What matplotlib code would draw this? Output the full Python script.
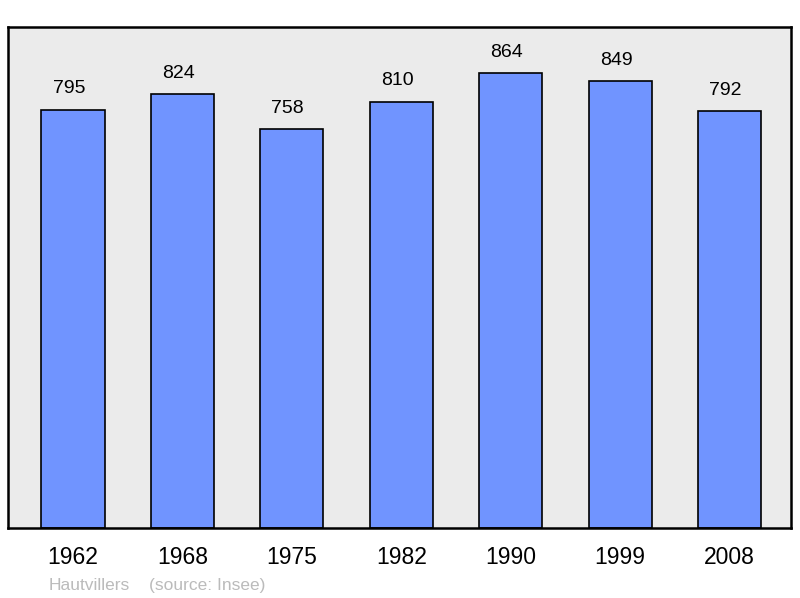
import matplotlib.pyplot as plt

years = ['1962', '1968', '1975', '1982', '1990', '1999', '2008']
population = [795, 824, 758, 810, 864, 849, 792]
town = 'Hautvillers'
source = '(source: Insee)'

plt.rcParams['font.family'] = ['Liberation Sans', 'DejaVu Sans']

fig = plt.figure(figsize=(8, 5.98), dpi=100)
ax = fig.add_axes([0.01, 0.117, 0.979, 0.838])
ax.set_facecolor('#ebebeb')

x = list(range(len(years)))
ax.bar(x, population, width=0.576, color='#7094ff', edgecolor='black', linewidth=1.2)

for xi, v in zip(x, population):
    ax.annotate(str(v), (xi, v), xytext=(-3, 9), textcoords='offset points',
                ha='center', va='bottom', fontsize=14)

ax.set_xlim(-0.594, 6.563)
ax.set_ylim(0, 952)
ax.set_yticks([])
ax.set_xticks(x)
ax.set_xticklabels(years, fontsize=16.5)
ax.tick_params(axis='x', length=0, pad=13)
for s in ax.spines.values():
    s.set_linewidth(1.8)

fig.text(0.061, 0.013, town, color='#bbbbbb', fontsize=12.5)
fig.text(0.186, 0.013, source, color='#bbbbbb', fontsize=12.5)

fig.savefig('out.png', dpi=100)
